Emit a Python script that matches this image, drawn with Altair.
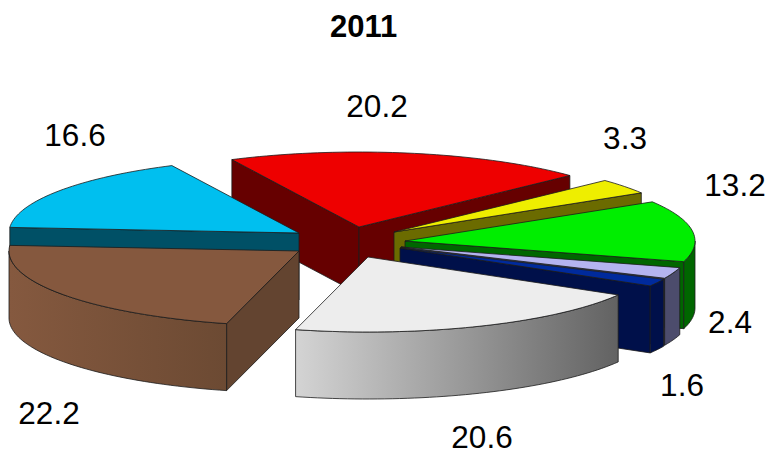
import math
import altair as alt
import pandas as pd

# Values
names = ["red", "yellow", "green", "lavender", "navy", "white", "brown", "cyan"]
values = [20.2, 3.3, 13.2, 2.4, 1.6, 20.6, 22.2, 16.6]
title_text = "2011"

# Layout (page pixels)
label_x = [377, 625, 735, 730, 682, 482, 49, 75]
label_y = [108, 140, 187, 324, 387, 439, 415, 137]
apex_x = [359, 394, 405, 401, 400, 368, 299, 299]
apex_y = [227, 232, 241, 247, 248, 257, 251, 233]
rx, ry = 290, 75
depth = 67
start_angle = -26.0

# Styles
top_colors = ["#ee0000", "#eeee00", "#00ee00", "#b4b4f0", "#002a9c", "#ededed", "#85583e", "#00bfef"]
face_colors = ["#660000", "#6b6b00", "#006600", "#4c4c6c", "#00104a", "#808080", "#634430", "#005066"]
wall_stops = {
    "green": ["#006600", "#006600"],
    "lavender": ["#4c4c6c", "#4c4c6c"],
    "navy": ["#00104a", "#00104a"],
    "white": ["#d4d4d4", "#626262"],
    "brown": ["#85593f", "#6c4a33"],
}
draw_order = ["red", "yellow", "cyan", "green", "lavender", "navy", "brown", "white"]
edge = "#1c1c1c"

PAD_TOP = 45
W, H = 759, 403
x_scale = alt.Scale(domain=[8, 8 + W], range=[0, W])
y_scale = alt.Scale(domain=[8 + PAD_TOP, 8 + PAD_TOP + H], range=[0, H])


def polygon(points, fill, stroke=edge, sw=0.8):
    pts = list(points) + [points[0]]
    df = pd.DataFrame({"px": [p[0] for p in pts], "py": [p[1] for p in pts], "i": range(len(pts))})
    return alt.Chart(df).mark_line(fill=fill, stroke=stroke, strokeWidth=sw, strokeJoin="round").encode(
        x=alt.X("px:Q", scale=x_scale, axis=None),
        y=alt.Y("py:Q", scale=y_scale, axis=None),
        order=alt.Order("i:Q"),
    )


def rim(cx, cy, a0, a1):
    n = max(2, int(abs(a1 - a0) / 1.5) + 1)
    out = []
    for k in range(n + 1):
        a = math.radians(a0 + (a1 - a0) * k / n)
        out.append((cx + rx * math.sin(a), cy - ry * math.cos(a)))
    return out


layers = []
total = sum(values)
angles = {}
cur = start_angle
for idx, name in enumerate(names):
    span = values[idx] / total * 360
    angles[name] = (cur, cur + span)
    cur += span

for name in draw_order:
    idx = names.index(name)
    cx, cy = apex_x[idx], apex_y[idx]
    a0, a1 = angles[name]
    arc = rim(cx, cy, a0, a1)
    # cut faces turned to the viewer
    if math.cos(math.radians(a0 - 90)) < 0:
        p = arc[0]
        layers.append(polygon([(cx, cy), p, (p[0], p[1] + depth), (cx, cy + depth)], face_colors[idx]))
    if math.cos(math.radians(a1 + 90)) < 0:
        p = arc[-1]
        layers.append(polygon([(cx, cy), p, (p[0], p[1] + depth), (cx, cy + depth)], face_colors[idx]))
    # outer wall
    lo, hi = max(a0, 90), min(a1, 270)
    if hi > lo:
        wall = rim(cx, cy, lo, hi)
        lower = [(x, y + depth) for x, y in reversed(wall)]
        c = wall_stops[name]
        # gradient runs left to right on screen
        fill = alt.Gradient(
            gradient="linear", x1=0, x2=1, y1=0, y2=0,
            stops=[alt.GradientStop(color=c[0], offset=0), alt.GradientStop(color=c[1], offset=1)],
        )
        layers.append(polygon(wall + lower, fill))
    # top
    layers.append(polygon([(cx, cy)] + arc, top_colors[idx]))

labels = pd.DataFrame({"px": label_x, "py": label_y, "t": [f"{v:.1f}" for v in values]})
text = alt.Chart(labels).mark_text(
    font="Liberation Sans", fontSize=31.5, color="#000000", align="center", baseline="middle"
).encode(
    x=alt.X("px:Q", scale=x_scale, axis=None),
    y=alt.Y("py:Q", scale=y_scale, axis=None),
    text="t:N",
)

chart = alt.layer(*layers, text).properties(
    width=W,
    height=H,
    background="#ffffff",
    padding={"left": 0, "right": 0, "top": PAD_TOP, "bottom": 0},
    autosize=alt.AutoSizeParams(type="none"),
    title=alt.TitleParams(
        text=title_text, anchor="start", frame="group", dx=322, offset=9,
        font="Liberation Sans", fontSize=31, fontWeight="bold", color="#000000",
    ),
).configure_view(stroke="transparent", strokeWidth=0)

chart.save("out.html", embed_options={"renderer": "svg", "actions": False})
